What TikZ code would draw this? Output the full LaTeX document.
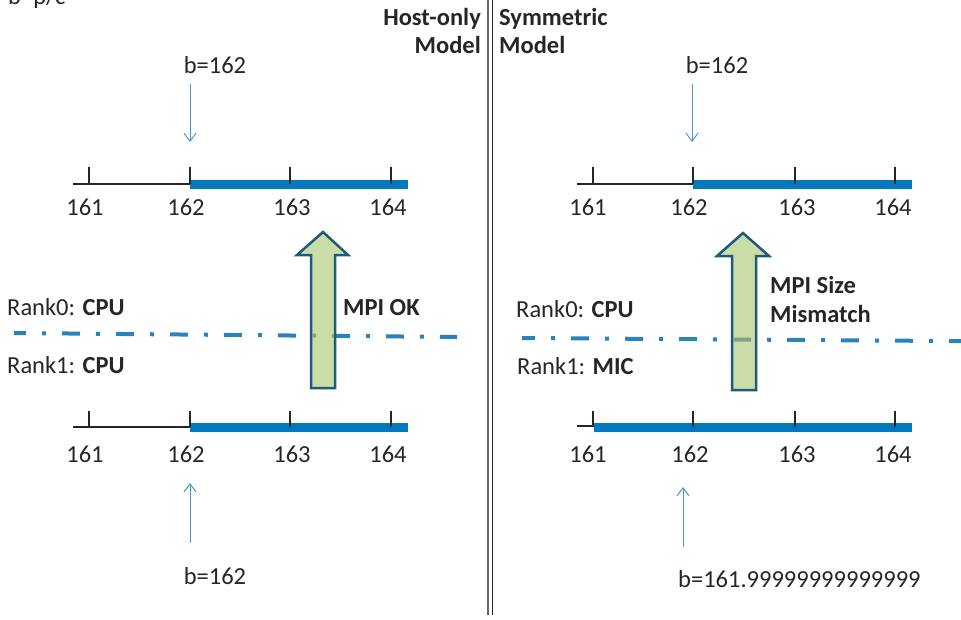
\documentclass[tikz,border=0pt]{standalone}
\usepackage{fontspec}
\setmainfont{Carlito}
\usetikzlibrary{arrows.meta}
\definecolor{ink}{RGB}{38,38,38}
\definecolor{barblue}{RGB}{0,121,190}
\definecolor{ptrblue}{RGB}{75,150,200}
\definecolor{sepblue}{RGB}{40,132,186}
\definecolor{sepmuted}{RGB}{125,163,135}
\definecolor{arrowfill}{RGB}{203,221,167}
\definecolor{arrowedge}{RGB}{30,90,125}
\tikzset{
  txt/.style={inner sep=0pt, text=ink, font=\fontsize{24.5}{29}\selectfont},
  lbl/.style={txt, anchor=base},
  axisline/.style={draw=ink, line width=1.3pt},
  tickmark/.style={draw=ink, line width=1.3pt},
  rangebar/.style={draw=barblue, line width=8.5pt},
  pointer/.style={draw=ptrblue, line width=1pt, -{Straight Barb[length=8pt,width=12pt]}},
  rankline/.style={draw=sepblue, line width=4pt, dash pattern=on 18pt off 16pt on 4pt off 16pt},
  flow/.style={fill=arrowfill, draw=arrowedge, line width=2.5pt, line join=miter},
  divider/.style={line width=1.6pt}
}
\begin{document}
\begin{tikzpicture}[x=1pt,y=-1pt]
\useasboundingbox (0,0) rectangle (961,619);
\clip (0,0) rectangle (961,619);

% formula in the corner
\node[txt, anchor=base west] (formula) at (8,4) {b=p/c};

% panel headings and the double divider
\node[txt, anchor=base east] (hostA) at (481,25) {\bfseries Host-only};
\node[txt, anchor=base east] (hostB) at (481,53) {\bfseries Model};
\node[txt, anchor=base west] (symA) at (499,25) {\bfseries Symmetric};
\node[txt, anchor=base west] (symB) at (499,53) {\bfseries Model};
\draw[divider, draw=gray!80!black] (488,0) -- (488,615);
\draw[divider, draw=ink] (492.5,0) -- (492.5,615);

% ---------------- host-only model ----------------
% rank separator
\draw[rankline, dash phase=6pt] (14,333) -- (457,337);

% upper number line (rank 0)
\draw[axisline] (73,184) -- (190,184);
\draw[rangebar] (190,184.5) -- (408,184.5);
\foreach \x in {89,190,290,391} \draw[tickmark] (\x,167) -- (\x,184);
\node[lbl] (lt161) at (85,215) {161};
\node[lbl] (lt162) at (186,215) {162};
\node[lbl] (lt163) at (292,215) {163};
\node[lbl] (lt164) at (388,215) {164};
\node[lbl] (lbtop) at (215,73) {b=162};
\coordinate (lptA) at (190,84);
\coordinate (lptB) at (190,142);
\draw[pointer] (lptA) -- (lptB);

% lower number line (rank 1)
\draw[axisline] (73,427) -- (190,427);
\draw[rangebar] (190,427.5) -- (408,427.5);
\foreach \x in {89,190,290,391} \draw[tickmark] (\x,411) -- (\x,427);
\node[lbl] (lb161) at (85,462) {161};
\node[lbl] (lb162) at (186,462) {162};
\node[lbl] (lb163) at (292,462) {163};
\node[lbl] (lb164) at (388,462) {164};
\node[lbl] (lbbot) at (215,584) {b=162};
\coordinate (lpbA) at (190,543);
\coordinate (lpbB) at (190,483);
\draw[pointer] (lpbA) -- (lpbB);

% rank labels
\node[txt, anchor=base west] (lrank0) at (7,315) {Rank0: \textbf{CPU}};
\node[txt, anchor=base west] (lrank1) at (7,373) {Rank1: \textbf{CPU}};

% exchange arrow
\draw[flow] (323,232) -- (348,255) -- (335,255) -- (335,388) -- (311,388)
  -- (311,255) -- (297,255) -- cycle;
\begin{scope}
  \clip (312.3,300) rectangle (333.7,370);
  \draw[rankline, dash phase=6pt, draw=sepmuted] (14,333) -- (457,337);
\end{scope}
\node[txt, anchor=base west] (lok) at (343,315) {\bfseries MPI OK};

% ---------------- symmetric model ----------------
\draw[rankline, dash phase=5pt] (522,338) -- (975,341.2);

% upper number line (rank 0)
\draw[axisline] (577,184) -- (693,184);
\draw[rangebar] (693,184.5) -- (912,184.5);
\foreach \x in {593,693,795,895} \draw[tickmark] (\x,167) -- (\x,184);
\node[lbl] (rt161) at (588,215) {161};
\node[lbl] (rt162) at (689,215) {162};
\node[lbl] (rt163) at (797,215) {163};
\node[lbl] (rt164) at (893,215) {164};
\node[lbl] (rbtop) at (717,73) {b=162};
\coordinate (rptA) at (692,84);
\coordinate (rptB) at (692,142);
\draw[pointer] (rptA) -- (rptB);

% lower number line (rank 1)
\draw[axisline] (577,426) -- (594,426);
\draw[rangebar] (594,427.5) -- (912,427.5);
\foreach \x in {593,693,795,895} \draw[tickmark] (\x,411) -- (\x,427);
\node[lbl] (rb161) at (588,462) {161};
\node[lbl] (rb162) at (690,462) {162};
\node[lbl] (rb163) at (797,462) {163};
\node[lbl] (rb164) at (893,462) {164};
\node[txt, anchor=base west] (rbbot) at (678,587) {b=161.99999999999999};
\coordinate (rpbA) at (683,547);
\coordinate (rpbB) at (683,487);
\draw[pointer] (rpbA) -- (rpbB);

% rank labels
\node[txt, anchor=base west] (rrank0) at (516,317) {Rank0: \textbf{CPU}};
\node[txt, anchor=base west] (rrank1) at (517,374) {Rank1: \textbf{MIC}};

% exchange arrow
\draw[flow] (743,233) -- (769,256) -- (756,256) -- (756,390) -- (732,390)
  -- (732,256) -- (717,256) -- cycle;
\begin{scope}
  \clip (733.3,300) rectangle (754.7,370);
  \draw[rankline, dash phase=5pt, draw=sepmuted] (522,338) -- (975,341.2);
\end{scope}
\node[txt, anchor=base west] (rsizeA) at (770,293) {\bfseries MPI Size};
\node[txt, anchor=base west] (rsizeB) at (770,322) {\bfseries Mismatch};
\end{tikzpicture}
\end{document}
